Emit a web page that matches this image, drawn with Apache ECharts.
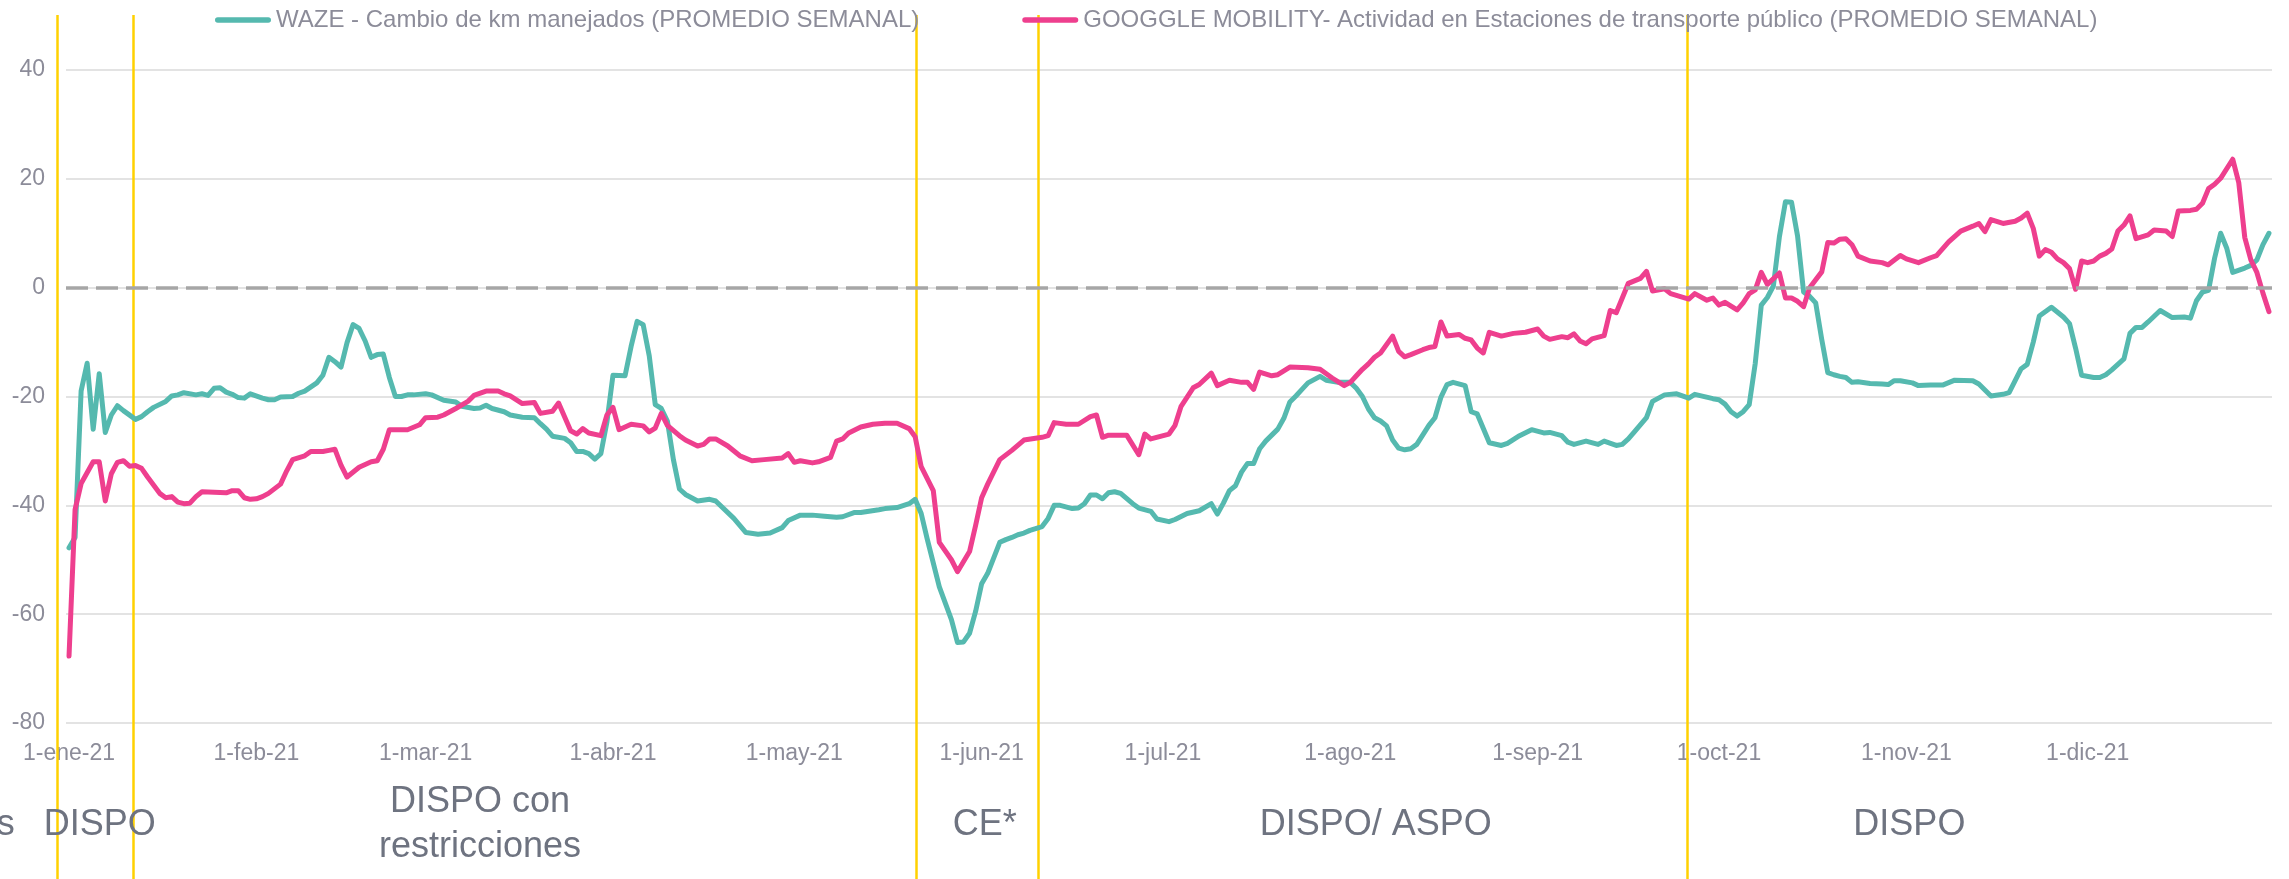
<!DOCTYPE html>
<html>
<head>
<meta charset="utf-8">
<script src="https://cdn.jsdelivr.net/npm/echarts@6/dist/echarts.min.js"></script>
<style>
  body { margin: 0; background: #fff; }
  #chart { width: 2289px; height: 879px; }
</style>
</head>
<body>
<div id="chart"></div>
<script>
// días del año 2021 (0 = 1-ene)
const monthNames = ['ene', 'feb', 'mar', 'abr', 'may', 'jun', 'jul', 'ago', 'sep', 'oct', 'nov', 'dic']
const days = []
for (let i = 0; i < 365; i++) {
    const d = new Date(Date.UTC(2021, 0, 1 + i))
    days.push(d.toISOString().slice(0, 10))
}

const yTicks = { min: -80, max: 40, step: 20 }

// [día, valor]
const waze = [
    [0, -47.8], [1, -45.9], [2, -19], [3, -13.9], [4, -26], [5, -15.8], [6, -26.6], [7, -23.4], [8, -21.7], [9, -22.6],
    [11, -24.2], [12, -23.7], [13, -22.8], [14, -22], [16, -20.9], [17, -19.9], [18, -19.7], [19, -19.3], [21, -19.7], [22, -19.5],
    [23, -19.8], [24, -18.5], [25, -18.4], [26, -19.2], [27, -19.6], [28, -20.2], [29, -20.3], [30, -19.5], [32, -20.3], [33, -20.6],
    [34, -20.6], [35, -20.1], [37, -20], [38, -19.4], [39, -19], [41, -17.5], [42, -16.1], [43, -12.8], [44, -13.6], [45, -14.6],
    [46, -10.1], [47, -6.8], [48, -7.5], [49, -9.8], [50, -12.8], [51, -12.3], [52, -12.2], [53, -16.5], [54, -20], [55, -20],
    [56, -19.7], [57, -19.7], [59, -19.5], [60, -19.7], [62, -20.7], [64, -21], [65, -21.8], [67, -22.2], [68, -22.1], [69, -21.6],
    [70, -22.2], [72, -22.8], [73, -23.4], [75, -23.8], [77, -23.9], [78, -25], [79, -26], [80, -27.3], [82, -27.7], [83, -28.5],
    [84, -30.1], [85, -30.1], [86, -30.5], [87, -31.5], [88, -30.5], [89, -24.7], [90, -16.1], [92, -16.2], [93, -10.8], [94, -6.2],
    [95, -6.8], [96, -12.5], [97, -21.5], [98, -22.2], [99, -24.5], [100, -31.6], [101, -37], [102, -38], [103, -38.6], [104, -39.2],
    [106, -38.9], [107, -39.2], [110, -42.4], [112, -45], [114, -45.3], [116, -45.1], [118, -44.1], [119, -42.8], [121, -41.8], [123, -41.8],
    [125, -42], [127, -42.2], [128, -42.1], [130, -41.3], [131, -41.3], [134, -40.8], [135, -40.6], [137, -40.4], [139, -39.7], [140, -38.9],
    [141, -41.5], [142, -46.2], [144, -55], [146, -61], [147, -65.2], [148, -65.1], [149, -63.5], [150, -59.5], [151, -54.4], [152, -52.5],
    [154, -46.8], [155, -46.3], [156, -45.9], [157, -45.4], [158, -45.1], [159, -44.6], [161, -43.9], [162, -42.4], [163, -40], [164, -40],
    [166, -40.6], [167, -40.5], [168, -39.7], [169, -38.1], [170, -38.1], [171, -38.8], [172, -37.7], [173, -37.5], [174, -37.8], [176, -39.7],
    [177, -40.5], [179, -41.1], [180, -42.5], [182, -43], [183, -42.6], [185, -41.5], [187, -41], [189, -39.7], [190, -41.6], [191, -39.6],
    [192, -37.3], [193, -36.4], [194, -33.9], [195, -32.3], [196, -32.3], [197, -29.6], [198, -28.2], [200, -26], [201, -24], [202, -21],
    [203, -19.9], [204, -18.7], [205, -17.5], [207, -16.3], [208, -17], [210, -17.4], [212, -17.4], [213, -18.5], [214, -20], [215, -22.3],
    [216, -23.9], [217, -24.5], [218, -25.4], [219, -28], [220, -29.5], [221, -29.8], [222, -29.6], [223, -28.8], [225, -25.3], [226, -23.9],
    [227, -20.1], [228, -17.8], [229, -17.4], [231, -18], [232, -22.8], [233, -23.2], [235, -28.5], [237, -29], [238, -28.6], [240, -27.2],
    [242, -26.1], [244, -26.7], [245, -26.6], [247, -27.2], [248, -28.4], [249, -28.8], [251, -28.2], [253, -28.8], [254, -28.2], [256, -29],
    [257, -28.8], [258, -27.8], [259, -26.5], [261, -23.9], [262, -20.9], [264, -19.7], [266, -19.5], [268, -20.3], [269, -19.6], [272, -20.4],
    [273, -20.6], [274, -21.4], [275, -22.8], [276, -23.6], [277, -22.8], [278, -21.5], [279, -13.9], [280, -3.2], [281, -1.8], [282, 0.3],
    [283, 9.4], [284, 15.8], [285, 15.7], [286, 9.5], [287, -0.8], [288, -1.6], [289, -2.8], [290, -9.5], [291, -15.6], [292, -16],
    [293, -16.3], [294, -16.5], [295, -17.4], [296, -17.3], [298, -17.6], [300, -17.7], [301, -17.8], [302, -17.1], [303, -17.1], [305, -17.5],
    [306, -18], [308, -17.9], [310, -17.9], [312, -17], [315, -17.1], [316, -17.7], [318, -19.9], [320, -19.6], [321, -19.3], [322, -17.1],
    [323, -14.9], [324, -14.1], [325, -10], [326, -5.2], [328, -3.6], [330, -5.4], [331, -6.6], [332, -11.1], [333, -16.1], [335, -16.5],
    [336, -16.5], [337, -16], [338, -15.1], [340, -13.1], [341, -8.4], [342, -7.3], [343, -7.3], [344, -6.3], [346, -4.2], [348, -5.5],
    [350, -5.4], [351, -5.6], [352, -2.4], [353, -0.8], [354, -0.5], [355, 5.4], [356, 10], [357, 7.3], [358, 2.8], [360, 3.6],
    [361, 4.1], [362, 5.1], [363, 7.9], [364, 10]
]

const google = [
    [0, -67.7], [1, -40.8], [2, -36], [4, -32], [5, -32], [6, -39.2], [7, -34.2], [8, -32.1], [9, -31.8], [10, -32.8],
    [11, -32.7], [12, -33.2], [13, -34.8], [15, -37.8], [16, -38.6], [17, -38.4], [18, -39.4], [19, -39.7], [20, -39.6], [21, -38.4],
    [22, -37.5], [24, -37.6], [26, -37.7], [27, -37.3], [28, -37.3], [29, -38.6], [30, -38.9], [31, -38.8], [32, -38.4], [33, -37.8],
    [35, -36.1], [36, -33.7], [37, -31.6], [39, -30.9], [40, -30.1], [42, -30.1], [43, -29.9], [44, -29.7], [45, -32.6], [46, -34.8],
    [48, -33], [50, -32], [51, -31.8], [52, -29.7], [53, -26.1], [55, -26.1], [56, -26.1], [58, -25.2], [59, -23.9], [61, -23.8],
    [62, -23.4], [64, -22.2], [66, -20.9], [67, -19.8], [69, -19], [71, -19], [72, -19.5], [73, -19.9], [75, -21.3], [77, -21.1],
    [78, -23.1], [80, -22.7], [81, -21.2], [83, -26.3], [84, -26.9], [85, -25.9], [86, -26.7], [88, -27.2], [89, -23.4], [90, -22],
    [91, -26.1], [93, -25.1], [95, -25.4], [96, -26.5], [97, -25.8], [98, -23.1], [99, -25.3], [101, -27.2], [102, -28], [104, -29.1],
    [105, -28.8], [106, -27.8], [107, -27.8], [109, -29.1], [111, -30.9], [113, -31.8], [115, -31.6], [118, -31.3], [119, -30.5], [120, -32.1],
    [121, -31.8], [123, -32.2], [124, -32], [126, -31.2], [127, -28.2], [128, -27.8], [129, -26.7], [131, -25.6], [133, -25.1], [135, -24.9],
    [137, -24.9], [139, -25.9], [140, -27.4], [141, -32.9], [143, -37.3], [144, -46.8], [146, -50], [147, -52.2], [149, -48.5], [150, -43.7],
    [151, -38.6], [152, -36.1], [154, -31.6], [156, -29.9], [158, -28], [161, -27.5], [162, -27.2], [163, -24.8], [165, -25.1], [167, -25.1],
    [169, -23.7], [170, -23.4], [171, -27.5], [172, -27.1], [175, -27.1], [177, -30.7], [178, -26.9], [179, -27.8], [182, -26.9], [183, -25.3],
    [184, -21.8], [186, -18.4], [187, -17.8], [189, -15.7], [190, -18], [192, -17], [194, -17.4], [195, -17.4], [196, -18.7], [197, -15.5],
    [199, -16.2], [200, -16], [202, -14.6], [205, -14.7], [207, -15], [209, -16.6], [211, -18], [212, -17.4], [213, -16.2], [214, -15],
    [215, -14], [216, -12.8], [217, -12], [219, -8.9], [220, -11.7], [221, -12.7], [222, -12.3], [224, -11.4], [225, -11], [226, -10.8],
    [227, -6.3], [228, -8.9], [230, -8.6], [231, -9.3], [232, -9.6], [233, -11.1], [234, -12], [235, -8.2], [237, -8.9], [239, -8.4],
    [241, -8.2], [243, -7.6], [244, -8.9], [245, -9.5], [247, -9], [248, -9.2], [249, -8.5], [250, -9.8], [251, -10.3], [252, -9.4],
    [254, -8.8], [255, -4.2], [256, -4.6], [257, -1.9], [258, 0.8], [260, 1.7], [261, 3], [262, -0.6], [264, -0.2], [265, -1.1],
    [268, -2.1], [269, -1.1], [271, -2.3], [272, -1.9], [273, -3.2], [274, -2.7], [276, -4.1], [277, -2.8], [278, -1.1], [279, -0.4],
    [280, 2.8], [281, 0.6], [283, 2.7], [284, -1.9], [285, -1.9], [286, -2.5], [287, -3.5], [288, 0], [290, 2.9], [291, 8.3],
    [292, 8.2], [293, 8.9], [294, 9], [295, 7.9], [296, 5.8], [298, 4.9], [300, 4.6], [301, 4.2], [303, 5.9], [304, 5.3],
    [306, 4.6], [308, 5.5], [309, 5.9], [311, 8.4], [313, 10.4], [315, 11.3], [316, 11.8], [317, 10.3], [318, 12.5], [320, 11.8],
    [322, 12.2], [323, 12.8], [324, 13.7], [325, 10.9], [326, 5.8], [327, 7], [328, 6.5], [329, 5.3], [330, 4.6], [331, 3.5],
    [332, -0.3], [333, 4.9], [334, 4.6], [335, 4.9], [336, 5.8], [337, 6.3], [338, 7.1], [339, 10.4], [340, 11.5], [341, 13.2],
    [342, 9], [344, 9.7], [345, 10.6], [347, 10.4], [348, 9.4], [349, 14.1], [351, 14.2], [352, 14.4], [353, 15.5], [354, 18.2],
    [355, 19], [356, 20.1], [358, 23.6], [359, 19.3], [360, 9.2], [361, 5.1], [362, 2.8], [363, -1], [364, -4.4]
]

// cambios de fase (día del año) y etiquetas
const phaseLines = [-2, 10.6, 140.1, 160.3, 267.7]
const phaseLabels = [
    { text: 's', day: -9, align: 'right' },
    { text: 'DISPO', day: 5.1 },
    { text: 'DISPO con\nrestricciones', day: 68 },
    { text: 'CE*', day: 151.5 },
    { text: 'DISPO/ ASPO', day: 216.2 },
    { text: 'DISPO', day: 304.5 }
]

const FONT = "'Liberation Sans', Arial, sans-serif"
const chart = echarts.init(document.getElementById('chart'))

const option = {
    animation: false,
    backgroundColor: '#fff',
    textStyle: { fontFamily: FONT },
    grid: { left: 66, right: 17, top: 70, bottom: 156 },
    legend: {
        left: 210,
        top: 3,
        itemWidth: 56,
        itemHeight: 6,
        itemGap: 103,
        icon: 'path://M3,0 H57 A3,3 0 0 1 57,6 H3 A3,3 0 0 1 3,0 Z',
        textStyle: { fontSize: 24, color: '#8C8C99', fontFamily: FONT }
    },
    xAxis: [
        {
            type: 'category',
            data: days,
            boundaryGap: true,
            axisLine: { show: false },
            axisTick: { show: false },
            splitLine: { show: false },
            axisLabel: {
                interval: (index, value) => value.slice(8) === '01',
                margin: 19,
                fontSize: 23,
                color: '#8C8C99',
                formatter: (value) => {
                    const m = parseInt(value.slice(5, 7), 10) - 1
                    return '1-' + monthNames[m] + '-' + value.slice(2, 4)
                }
            }
        },
        {
            type: 'value',
            show: false,
            min: -0.5,
            max: 364.5,
            splitLine: { show: false }
        }
    ],
    yAxis: {
        type: 'value',
        min: yTicks.min,
        max: yTicks.max,
        interval: yTicks.step,
        axisLine: { show: false },
        axisTick: { show: false },
        axisLabel: { fontSize: 23, color: '#8C8C99', margin: 21 },
        splitLine: { lineStyle: { color: '#E3E3E3', width: 2 } }
    },
    series: [
        {
            name: 'WAZE - Cambio de km manejados (PROMEDIO SEMANAL)',
            type: 'line',
            xAxisIndex: 1,
            data: waze,
            symbol: 'none',
            color: '#55B9AF',
            lineStyle: { width: 5, color: '#55B9AF', cap: 'round', join: 'round' },
            markLine: {
                silent: true,
                symbol: ['none', 'none'],
                label: { show: false },
                lineStyle: { color: '#A6A6A6', width: 3.5, type: [22, 8] },
                data: [{ yAxis: 0 }]
            },
            z: 3
        },
        {
            name: 'GOOGGLE MOBILITY- Actividad en Estaciones de transporte público (PROMEDIO SEMANAL)',
            type: 'line',
            xAxisIndex: 1,
            data: google,
            symbol: 'none',
            color: '#EE3F8E',
            lineStyle: { width: 5, color: '#EE3F8E', cap: 'round', join: 'round' },
            z: 4
        }
    ]
}
chart.setOption(option)

// líneas amarillas y textos de fases, ubicados con la escala del eje x
const graphics = []
phaseLines.forEach((d) => {
    const x = Math.round(chart.convertToPixel({ xAxisIndex: 1 }, d)) + 0.5
    graphics.push({
        type: 'line',
        z: 1,
        silent: true,
        shape: { x1: x, y1: 15, x2: x, y2: 879 },
        style: { stroke: '#FFD100', lineWidth: 2.5 }
    })
})
phaseLabels.forEach((p) => {
    graphics.push({
        type: 'text',
        z: 1,
        silent: true,
        x: chart.convertToPixel({ xAxisIndex: 1 }, p.day),
        y: 825,
        style: {
            text: p.text,
            fill: '#6E7380',
            font: '36px ' + FONT,
            align: p.align || 'center',
            verticalAlign: 'middle',
            lineHeight: 45
        }
    })
})
chart.setOption({ graphic: graphics })
</script>
</body>
</html>
